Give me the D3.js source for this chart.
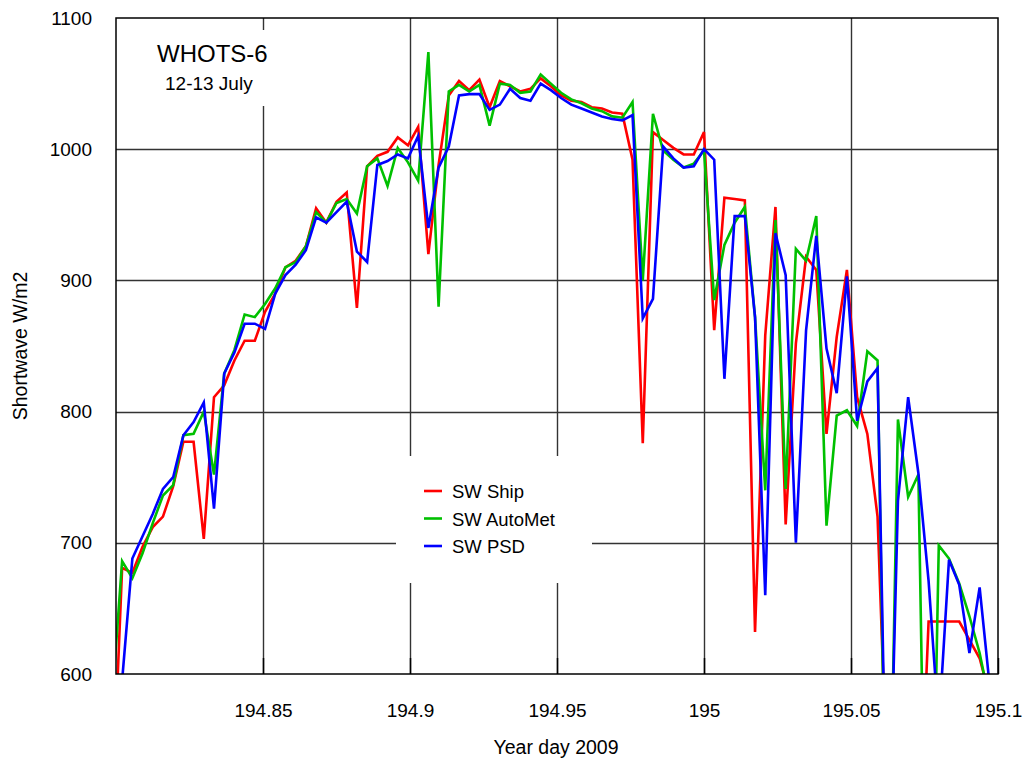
<!DOCTYPE html>
<html>
<head>
<meta charset="utf-8">
<script src="https://cdn.jsdelivr.net/npm/d3@7"></script>
<style>
  body { margin: 0; background: #fff; }
  text { font-family: Arial, "Liberation Sans", sans-serif; fill: #000; }
</style>
</head>
<body>
<div id="vis"></div>
<script>
// year day 2009, 5 minute samples
var yearDay = [194.79861, 194.80208, 194.80556, 194.80903, 194.81250, 194.81597, 194.81944, 194.82292,
  194.82639, 194.82986, 194.83333, 194.83681, 194.84028, 194.84375, 194.84722, 194.85069, 194.85417,
  194.85764, 194.86111, 194.86458, 194.86806, 194.87153, 194.87500, 194.87847, 194.88194, 194.88542,
  194.88889, 194.89236, 194.89583, 194.89931, 194.90278, 194.90625, 194.90972, 194.91319, 194.91667,
  194.92014, 194.92361, 194.92708, 194.93056, 194.93403, 194.93750, 194.94097, 194.94444, 194.94792,
  194.95139, 194.95486, 194.95833, 194.96181, 194.96528, 194.96875, 194.97222, 194.97569, 194.97917,
  194.98264, 194.98611, 194.98958, 194.99306, 194.99653, 195.00000, 195.00347, 195.00694, 195.01042,
  195.01389, 195.01736, 195.02083, 195.02431, 195.02778, 195.03125, 195.03472, 195.03819, 195.04167,
  195.04514, 195.04861, 195.05208, 195.05556, 195.05903, 195.06250, 195.06597, 195.06944, 195.07292,
  195.07639, 195.07986, 195.08333, 195.08681, 195.09028, 195.09375, 195.09722];

var swShip = [490, 681, 677, 697, 712, 720, 743, 777, 777, 703, 811, 820, 839, 854, 854, 876, 890, 910,
  915, 926, 955, 944, 960, 967, 879, 987, 995, 998, 1009, 1003, 1017, 920, 988, 1041, 1052, 1045, 1053,
  1032, 1052, 1048, 1044, 1046, 1054, 1048, 1041, 1037, 1036, 1032, 1031, 1028, 1027, 992, 776, 1013,
  1007, 1001, 996, 996, 1013, 862, 963, 962, 961, 632, 858, 956, 714, 852, 918, 908, 783, 857, 908, 811,
  783, 720, 502, 520, 500, 450, 640, 640, 640, 640, 626, 612, 583];

var swAutoMet = [578, 686, 673, 692, 715, 736, 744, 782, 783, 800, 752, 829, 847, 874, 872, 882, 894, 910,
  914, 926, 952, 944, 959, 962, 951, 987, 993, 972, 1001, 990, 976, 1074, 880, 1044, 1049, 1044, 1049,
  1018, 1050, 1049, 1043, 1044, 1057, 1050, 1043, 1038, 1035, 1031, 1029, 1025, 1024, 1036, 900, 1027,
  999, 992, 986, 989, 999, 885, 927, 944, 956, 872, 740, 946, 741, 924, 915, 949, 713, 797, 801, 789,
  846, 839, 380, 794, 735, 752, 300, 698, 688, 669, 644, 616, 578];

var swPSD = [560, 595, 688, 705, 722, 741, 750, 782, 792, 807, 726, 829, 845, 867, 867, 863, 890, 904,
  912, 923, 948, 944, 952, 960, 922, 914, 988, 991, 996, 993, 1010, 940, 986, 1002, 1041, 1042, 1042,
  1030, 1034, 1046, 1039, 1037, 1050, 1045, 1039, 1034, 1031, 1028, 1025, 1023, 1022, 1026, 871, 886,
  1002, 993, 986, 987, 1000, 992, 825, 949, 949, 872, 660, 936, 904, 700, 862, 934, 848, 814, 903, 793,
  823, 833, 430, 732, 811, 753, 671, 560, 687, 668, 616, 666, 590];

var seriesNames = ["SW Ship", "SW AutoMet", "SW PSD"];
var seriesColors = ["#ff0000", "#00c000", "#0000ff"];
var xTicks = [194.85, 194.9, 194.95, 195, 195.05, 195.1];
var yTicks = [600, 700, 800, 900, 1000, 1100];

var width = 1031, height = 767;
var plotL = 116, plotR = 998, plotT = 18, plotB = 674;

var svg = d3.select("#vis")
    .append("svg")
    .attr("width", width)
    .attr("height", height);

var x = d3.scaleLinear()
    .domain([194.8, 195.1])
    .range([plotL, plotR]);

var y = d3.scaleLinear()
    .domain([600, 1100])
    .range([plotB, plotT]);

svg.append("defs").append("clipPath")
    .attr("id", "plotclip")
  .append("rect")
    .attr("x", plotL)
    .attr("y", plotT)
    .attr("width", plotR - plotL)
    .attr("height", plotB - plotT);

////////// grid //////////

svg.append("g")
    .selectAll("line.hgrid")
    .data(yTicks.slice(1, -1))
    .enter()
    .append("line")
    .attr("x1", plotL)
    .attr("x2", plotR)
    .attr("y1", function(d) { return Math.round(y(d)) + 0.5; })
    .attr("y2", function(d) { return Math.round(y(d)) + 0.5; })
    .style("stroke", "#333")
    .style("stroke-width", 1.4);

svg.append("g")
    .selectAll("line.vgrid")
    .data(xTicks.slice(0, -1))
    .enter()
    .append("line")
    .attr("x1", function(d) { return Math.round(x(d)) + 0.5; })
    .attr("x2", function(d) { return Math.round(x(d)) + 0.5; })
    .attr("y1", plotT)
    .attr("y2", plotB)
    .style("stroke", "#333")
    .style("stroke-width", 1.4);

// white boxes behind title and legend cut the grid
svg.append("rect")
    .attr("x", 140).attr("y", 30)
    .attr("width", 135).attr("height", 76)
    .style("fill", "#fff");

svg.append("rect")
    .attr("x", 396).attr("y", 456)
    .attr("width", 196).attr("height", 127)
    .style("fill", "#fff");

// axes
var xAxis = d3.axisBottom(x)
    .tickValues(xTicks)
    .tickSizeInner(-16)
    .tickSizeOuter(0)
    .tickPadding(30)
    .tickFormat(function(d) { return String(+d.toFixed(2)); });

svg.append("g")
    .attr("transform", "translate(0," + plotB + ")")
    .call(xAxis)
    .call(function(g) { g.select(".domain").remove(); })
    .call(function(g) {
      g.selectAll("line").style("stroke", "#000").style("stroke-width", 1.5);
      g.selectAll("text").style("font-size", "19px").style("fill", "#000");
    });

var yAxis = d3.axisLeft(y)
    .tickValues(yTicks)
    .tickSize(0)
    .tickPadding(24)
    .tickFormat(d3.format("d"));

svg.append("g")
    .attr("transform", "translate(" + plotL + ",0)")
    .call(yAxis)
    .call(function(g) { g.select(".domain").remove(); })
    .call(function(g) {
      g.selectAll("text").style("font-size", "19px").style("fill", "#000");
    });

////////// series //////////

var line = d3.line()
    .x(function(d) { return x(d[0]); })
    .y(function(d) { return y(d[1]); });

var series = [swShip, swAutoMet, swPSD];

svg.append("g")
    .attr("clip-path", "url(#plotclip)")
    .selectAll("path")
    .data(series)
    .enter()
    .append("path")
    .attr("d", function(vals) { return line(d3.zip(yearDay, vals)); })
    .style("fill", "none")
    .style("stroke", function(d, i) { return seriesColors[i]; })
    .style("stroke-width", 2.6)
    .style("stroke-linejoin", "miter");

// frame
svg.append("rect")
    .attr("x", plotL)
    .attr("y", plotT)
    .attr("width", plotR - plotL)
    .attr("height", plotB - plotT)
    .style("fill", "none")
    .style("stroke", "#000")
    .style("stroke-width", 1.5);

////////// labels //////////

svg.append("text")
    .attr("x", 157)
    .attr("y", 62)
    .style("font-size", "24px")
    .text("WHOTS-6");

svg.append("text")
    .attr("x", 165)
    .attr("y", 90)
    .style("font-size", "19px")
    .text("12-13 July");

svg.append("text")
    .attr("x", 556)
    .attr("y", 754)
    .attr("text-anchor", "middle")
    .style("font-size", "19.5px")
    .text("Year day 2009");

svg.append("text")
    .attr("transform", "translate(27," + (plotT + plotB) / 2 + ") rotate(-90)")
    .attr("text-anchor", "middle")
    .style("font-size", "19.5px")
    .text("Shortwave W/m2");

// legend
var legend = svg.append("g")
    .attr("transform", "translate(424,491)");

var item = legend.selectAll("g")
    .data(seriesNames)
    .enter()
    .append("g")
    .attr("transform", function(d, i) { return "translate(0," + i * 27.5 + ")"; });

item.append("line")
    .attr("x1", 0)
    .attr("x2", 18)
    .style("stroke", function(d, i) { return seriesColors[i]; })
    .style("stroke-width", 2.6);

item.append("text")
    .attr("x", 28)
    .attr("y", 7)
    .style("font-size", "18.5px")
    .text(function(d) { return d; });
</script>
</body>
</html>
